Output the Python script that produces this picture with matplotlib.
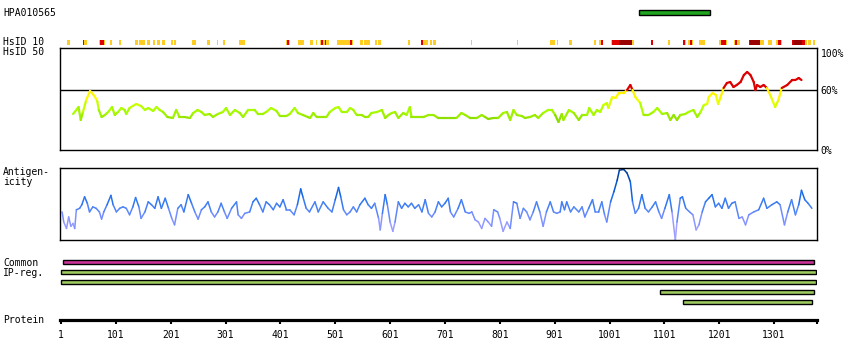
import numpy as np
import matplotlib
matplotlib.use("Agg")
import matplotlib.pyplot as plt
from matplotlib.collections import LineCollection
from matplotlib.colors import to_rgb

W, H = 850, 360
SEQ_LEN = 1379
PX_RES = 0.5485  # pixels per residue
XLO = 1 - 1 / PX_RES
XHI = 1 + 756 / PX_RES
FONT = "DejaVu Sans Mono"

# ---- data ----
antigen_start = [1055]
antigen_end = [1185]

# HsID 10 strip: residue ranges, level 1 = yellow, 2 = red, 3 = dark red
hs10_start = [12, 41, 70, 90, 107, 136, 143, 150, 158, 169, 176, 185, 202, 207, 240, 267, 285, 296,
              325, 411, 433, 455, 466, 473, 504, 521, 546, 553, 573, 579, 634, 657, 674, 679, 748,
              832, 892, 905, 927, 973, 982, 1004, 1077, 1108, 1135, 1144, 1164, 1200, 1228, 1233,
              1255, 1290, 1305, 1334, 1363, 1372,
              41, 72, 413, 475, 482, 528, 657, 985, 1006, 1077, 1135, 1148, 1204, 1230, 1255, 1308,
              1334, 1352,
              1018, 1257, 1336]
hs10_end = [16, 47, 80, 94, 109, 140, 149, 154, 163, 172, 180, 189, 205, 209, 247, 271, 287, 300,
            336, 418, 444, 459, 467, 488, 519, 533, 550, 564, 577, 583, 637, 670, 677, 683, 749,
            833, 900, 906, 931, 976, 989, 1044, 1080, 1110, 1140, 1153, 1175, 1215, 1233, 1238,
            1281, 1297, 1315, 1361, 1367, 1374,
            43, 78, 415, 477, 484, 530, 661, 989, 1018, 1080, 1137, 1150, 1213, 1233, 1257, 1312,
            1336, 1357,
            1042, 1275, 1352]
hs10_level = [1] * 56 + [2] * 18 + [3] * 3

# HsID 50 (%)
hs50_pos = [23, 33, 37, 41, 47, 54, 62, 67, 70, 75, 81, 87, 94, 99, 105, 111, 117, 120, 126, 138,
            147, 154, 160, 169, 175, 181, 187, 195, 205, 211, 217, 226, 236, 242, 250, 257, 263,
            272, 278, 287, 296, 302, 309, 318, 327, 333, 342, 354, 360, 369, 375, 384, 394, 400,
            412, 418, 427, 433, 442, 451,
            455, 461, 467, 476, 485, 491, 501, 507, 513, 522, 528, 534, 540, 549, 555, 561, 567,
            577, 586, 592, 598, 604, 610, 616, 625, 631, 637, 640, 649, 662, 671, 680, 689, 698,
            710, 722, 731, 738, 747, 759, 768, 774, 780, 789, 798, 807, 814, 820, 826, 832, 841,
            847, 856, 865, 871, 880, 889, 896, 902, 908, 914,
            917, 927, 936, 945, 951, 960, 964, 972, 978, 984, 990, 996, 999, 1006, 1012, 1018,
            1027, 1033, 1039, 1043, 1048, 1057, 1063, 1072, 1081, 1088, 1097, 1106, 1112, 1118,
            1124, 1130, 1139, 1145, 1154, 1161, 1167, 1173, 1179, 1182, 1189, 1195, 1199, 1203,
            1209, 1215, 1221, 1227, 1233, 1240, 1246, 1252, 1258, 1264, 1267, 1270, 1276, 1282,
            1288, 1294, 1303, 1309, 1315, 1325, 1334, 1340, 1346, 1351]
hs50_val = [36, 43, 30, 38, 50, 59, 54, 49, 40, 33, 35, 38, 43, 35, 38, 42, 40, 36, 42, 46,
            44, 40, 42, 39, 43, 40, 38, 33, 32, 40, 33, 33, 32, 37, 40, 38, 35,
            36, 33, 36, 38, 42, 35, 40, 37, 33, 40, 40, 36, 36, 38, 42, 39, 34,
            34, 36, 42, 37, 35, 33,
            32, 37, 33, 33, 33, 38, 42, 43, 38, 38, 42, 40, 35, 35, 33, 33, 37,
            38, 40, 32, 35, 37, 38, 32, 37, 35, 43, 33, 33, 33, 35, 35, 32, 32,
            32, 32, 37, 35, 32, 32, 35, 33, 31, 32, 32, 37, 38, 30, 40, 35, 34,
            32, 33, 35, 32, 37, 40, 40, 35, 28, 36,
            30, 40, 37, 30, 35, 35, 42, 35, 40, 38, 45, 47, 42, 53, 52, 57,
            57, 60, 65, 60, 53, 47, 35, 35, 38, 42, 36, 37, 30, 35,
            30, 35, 36, 38, 40, 33, 38, 45, 46, 53, 57, 55, 46, 52,
            62, 67, 68, 63, 65, 68, 75, 78, 75, 68, 60, 65, 63, 65,
            62, 55, 43, 50, 62, 65, 70, 70, 72, 70]

# Antigenicity (0 = panel bottom, 100 = panel top)
agn_pos = [3, 6, 11, 15, 19, 23, 26, 29, 35, 39, 44, 49, 53, 59, 65, 71, 75, 79, 85, 92, 96, 102,
           108, 114, 120, 126, 132, 137, 143, 147, 154, 160, 166, 172, 178, 184, 191, 197, 203,
           208, 214, 220, 225, 233, 239, 245, 251, 257, 263, 269, 275, 281, 287, 293, 299, 304,
           312, 321, 324, 330, 336, 345, 351, 357, 363, 369, 375, 381, 388, 394, 400, 406, 412,
           418, 426, 432, 438, 442, 448, 454,
           464, 470, 479, 488, 495, 501, 507, 511, 516, 522, 528, 534, 540, 546, 555, 561, 567,
           573, 580, 583, 587, 592, 596, 601, 606, 610, 616, 622, 628, 634, 640, 646, 653, 659,
           665, 671, 677, 683, 689, 695, 701, 707, 711, 717, 725, 731, 738, 745, 750, 756, 762,
           768, 774, 780, 786, 790, 797, 801, 807, 814, 820, 826, 832, 838, 844, 850, 856, 862,
           868, 874, 880, 886, 893, 899, 905, 911,
           914, 919, 923, 930, 936, 945, 951, 956, 963, 970, 975, 981, 987, 992, 996, 1003, 1009,
           1015, 1019, 1027, 1033, 1039, 1043, 1048, 1054, 1060, 1066, 1072, 1079, 1085, 1091,
           1096, 1102, 1110, 1115, 1121, 1124, 1130, 1134, 1140, 1147, 1153, 1159, 1164, 1170,
           1176, 1182, 1188, 1194, 1200, 1206, 1212, 1218, 1224, 1230, 1237, 1243, 1249, 1255,
           1264, 1273, 1282, 1288, 1297, 1306, 1312, 1320, 1326, 1333, 1340, 1346, 1351, 1357,
           1363, 1370]
agn_val = [39, 25, 16, 32, 19, 23, 16, 42, 44, 49, 60, 51, 39, 46, 44, 39, 29, 39, 49, 62, 49, 39,
           44, 46, 44, 35, 46, 59, 46, 30, 39, 53, 49, 44, 60, 44, 58, 44, 30,
           21, 44, 49, 39, 63, 51, 39, 29, 42, 46, 53, 39, 32, 39, 51, 39, 30,
           44, 53, 35, 30, 37, 39, 53, 58, 49, 39, 53, 49, 42, 51, 46, 56, 42,
           42, 35, 49, 71, 60, 44, 39,
           53, 39, 53, 44, 39, 56, 73, 60, 42, 35, 39, 46, 39, 49, 58, 49, 44,
           51, 30, 14, 37, 63, 49, 25, 12, 25, 53, 44, 51, 46, 51, 44, 49, 39,
           56, 37, 32, 39, 53, 46, 51, 58, 39, 32, 44, 56, 39, 37, 39, 28, 25,
           16, 30, 25, 19, 42, 39, 30, 12, 25, 16, 53, 51, 30, 44, 39, 28, 39,
           53, 39, 19, 39, 53, 39, 37, 39,
           53, 42, 53, 39, 46, 39, 46, 32, 44, 56, 39, 39, 53, 35, 25, 53, 67,
           83, 97, 98, 93, 81, 53, 37, 44, 63, 44, 39, 46, 53, 39,
           30, 44, 63, 39, 0, 25, 58, 60, 44, 39, 35, 14, 21, 39,
           53, 58, 63, 46, 51, 44, 58, 44, 51, 53, 30, 32, 21, 35,
           39, 42, 58, 44, 49, 53, 49, 21, 39, 56, 35, 49, 69, 56,
           51, 44]

# Common / IP-reg. tracks
track_start = [5, 1, 1, 1093, 1135]
track_end = [1374, 1378, 1378, 1373, 1371]
track_color = ["#cc3399", "#9dcb5f", "#9dcb5f", "#9dcb5f", "#9dcb5f"]

protein_ticks = [1, 101, 201, 301, 401, 501, 601, 701, 801, 901, 1001, 1101, 1201, 1301]

# ---- figure ----
fig = plt.figure(figsize=(W / 100, H / 100), dpi=100)
fig.patch.set_facecolor("white")


def px_axes(y0, y1, x0=60, x1=817):
    ax = fig.add_axes([x0 / W, 1 - y1 / H, (x1 - x0) / W, (y1 - y0) / H])
    ax.set_xlim(XLO, XHI)
    ax.patch.set_alpha(0)
    return ax


def bare(ax):
    for s in ax.spines.values():
        s.set_visible(False)
    ax.set_xticks([])
    ax.set_yticks([])


def label(x, y, s):
    fig.text(x / W, 1 - y / H, s, fontsize=7, family=FONT, va="baseline", ha="left")


def interp_colors(vals, stops, cols):
    rgb = np.array([to_rgb(c) for c in cols])
    return np.column_stack([np.interp(vals, stops, rgb[:, i]) for i in range(3)])


def colored_line(ax, x, y, colors, lw):
    x = np.asarray(x, float)
    y = np.asarray(y, float)
    pts = np.column_stack([x, y])
    segs = np.stack([pts[:-1], pts[1:]], axis=1)
    lc = LineCollection(segs, colors=colors, linewidths=lw, capstyle="round", joinstyle="round")
    ax.add_collection(lc)


# antigen bar on top
ax_a = px_axes(8, 17)
bare(ax_a)
ax_a.set_ylim(0, 1)
ax_a.barh([0.5], np.subtract(antigen_end, antigen_start), left=antigen_start, height=0.52,
          color="#1fa51f", edgecolor="black", linewidth=1.0)

# HsID 10 strip
ax_10 = px_axes(39.5, 45)
bare(ax_10)
ax_10.set_ylim(0, 1)
lvl_col = {1: "#ffcc22", 2: "#e00000", 3: "#990000"}
for lv in (1, 2, 3):
    st = [s for s, l in zip(hs10_start, hs10_level) if l == lv]
    en = [e for e, l in zip(hs10_end, hs10_level) if l == lv]
    ax_10.bar(st, 1, width=np.subtract(en, st) + 0.8, align="edge", color=lvl_col[lv],
              linewidth=0)

# HsID 50 panel
ax_h = px_axes(48, 150)
ax_h.set_ylim(0, 102)
for s in ax_h.spines.values():
    s.set_linewidth(1.0)
ax_h.set_xticks([])
ax_h.axhline(60, color="black", lw=1.0)
ax_h.yaxis.tick_right()
ax_h.set_yticks([0, 60, 97.5])
ax_h.set_yticklabels(["0%", "60%", "100%"], family=FONT, fontsize=7)
ax_h.tick_params(axis="y", length=0, pad=2.5)
hv = np.asarray(hs50_val, float)
mid = (hv[:-1] + hv[1:]) / 2
hcol = interp_colors(mid, [28, 33, 40, 47, 52, 59],
                     ["#66b800", "#99ea00", "#aaff00", "#d8ff00", "#ffff00", "#ffee00"])
hcol[mid >= 60.5] = to_rgb("#dd0000")
colored_line(ax_h, hs50_pos, hs50_val, hcol, 1.6)

# Antigenicity panel
ax_g = px_axes(168, 240)
ax_g.set_ylim(0, 100)
for s in ax_g.spines.values():
    s.set_linewidth(1.0)
ax_g.set_xticks([])
ax_g.set_yticks([])
gv = np.asarray(agn_val, float)
gmid = (gv[:-1] + gv[1:]) / 2
gcol = interp_colors(gmid, [0, 20, 35, 45, 55, 70, 85, 100],
                     ["#bba8ff", "#9a9cff", "#6f8cff", "#4a82f5", "#2a74f0", "#0a60e0",
                      "#0048b0", "#003a88"])
colored_line(ax_g, agn_pos, agn_val, gcol, 1.1)

# tracks
ax_t = px_axes(257, 307)
bare(ax_t)
ax_t.set_ylim(4.5, -0.5)
ax_t.barh(range(len(track_start)), np.subtract(track_end, track_start), left=track_start,
          height=0.42, color=track_color, edgecolor="black", linewidth=1.0)

# protein axis
ax_p = px_axes(312, 319.5)
for k in ("top", "left", "right"):
    ax_p.spines[k].set_visible(False)
ax_p.spines["bottom"].set_linewidth(2.3)
ax_p.set_yticks([])
ax_p.set_xticks(protein_ticks)
ax_p.set_xticklabels([str(t) for t in protein_ticks], family=FONT, fontsize=7)
ax_p.set_xticks([SEQ_LEN], minor=True)
ax_p.tick_params(axis="x", which="both", direction="out", length=3, width=1.5, pad=4.5)

# left labels
label(3, 16.5, "HPA010565")
label(3, 45, "HsID 10")
label(3, 55.3, "HsID 50")
label(3, 175, "Antigen-")
label(3, 185.5, "icity")
label(3, 265.7, "Common")
label(3, 275.5, "IP-reg.")
label(3, 322.7, "Protein")

fig.savefig("out.png", dpi=100, facecolor="white")
